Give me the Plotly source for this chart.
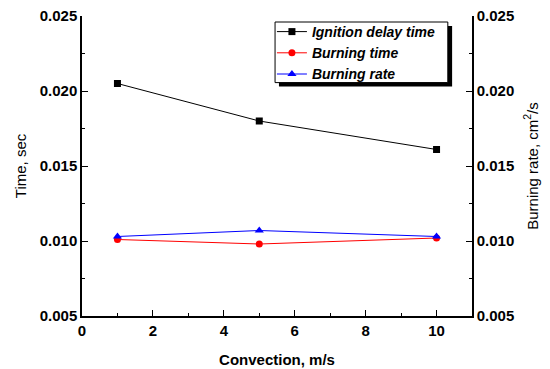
import plotly.graph_objects as go

convection = [1, 5, 10]
ignition_delay = [0.0205, 0.0180, 0.0161]
burning_time = [0.0101, 0.0098, 0.0102]
burning_rate = [0.0103, 0.0107, 0.0103]

FONT = "Liberation Sans, Arial, sans-serif"

fig = go.Figure()
fig.add_trace(go.Scatter(x=convection, y=ignition_delay, name="Ignition delay time",
                         mode="lines+markers", line=dict(color="black", width=1),
                         marker=dict(symbol="square", size=7, color="black")))
fig.add_trace(go.Scatter(x=convection, y=burning_time, name="Burning time",
                         mode="lines+markers", line=dict(color="red", width=1),
                         marker=dict(symbol="circle", size=7, color="red")))
fig.add_trace(go.Scatter(x=convection, y=burning_rate, name="Burning rate", yaxis="y2",
                         mode="lines+markers", line=dict(color="blue", width=1),
                         marker=dict(symbol="triangle-up", size=8, color="blue")))

tickfont = dict(family=FONT, size=15, color="black", weight="bold")
common_y = dict(range=[0.005, 0.025], dtick=0.005, tickformat=".3f",
                ticks="inside", ticklen=6, tickwidth=1, tickcolor="black",
                minor=dict(ticks="inside", ticklen=3, dtick=0.0025, tickcolor="black"),
                showline=True, linecolor="black", linewidth=1.5, showgrid=False,
                zeroline=False, tickfont=tickfont, automargin=False)

fig.update_layout(
    width=550, height=369,
    margin=dict(l=82, r=78, t=16, b=53),
    paper_bgcolor="white", plot_bgcolor="white",
    showlegend=True,
    legend=dict(x=0.487, y=1.0, xanchor="left", yanchor="top",
                bgcolor="rgba(0,0,0,0)", borderwidth=0,
                font=dict(family=FONT, size=14, color="black", style="italic", weight="bold"),
                tracegroupgap=0, itemwidth=30),
    xaxis=dict(range=[0, 11], dtick=2, ticks="inside", ticklen=6, tickwidth=1,
               tickcolor="black", minor=dict(ticks="inside", ticklen=3, dtick=1, tickcolor="black"),
               showline=True, linecolor="black", linewidth=1.5, showgrid=False,
               zeroline=False, tickfont=tickfont, automargin=False,
               title=dict(text="Convection, m/s", font=dict(family=FONT, size=15, color="black", weight="bold"),
                          standoff=17)),
    yaxis=dict(**common_y, title=dict(text="Time, sec", font=dict(family=FONT, size=15, color="black"),
                                      standoff=9)),
    yaxis2=dict(**common_y, overlaying="y", side="right",
                title=dict(text="Burning rate, cm<sup>2</sup>/s",
                           font=dict(family=FONT, size=15, color="black"), standoff=14)),
)

# legend frame with drop shadow
fig.add_shape(type="rect", xref="paper", yref="paper", x0=0.505, x1=0.949, y0=0.765, y1=0.967,
              fillcolor="black", line=dict(width=0), layer="above")
fig.add_shape(type="rect", xref="paper", yref="paper", x0=0.495, x1=0.938, y0=0.778, y1=0.98,
              fillcolor="white", line=dict(color="black", width=1), layer="above")

fig.write_html("out.html")
